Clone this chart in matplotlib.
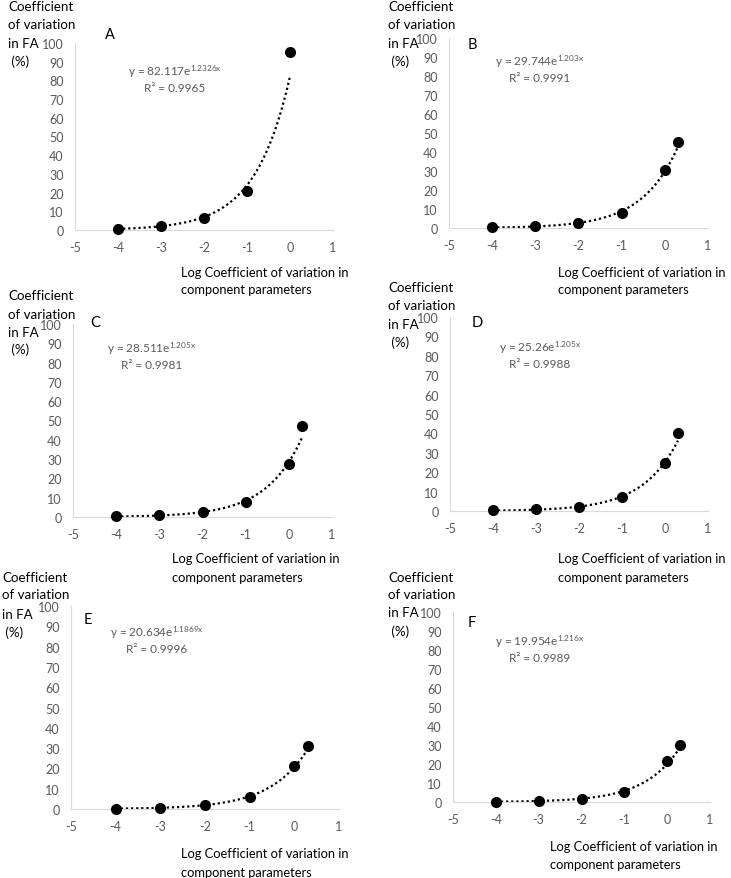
import matplotlib.pyplot as plt
import numpy as np

plt.rcParams["font.family"] = ["Lato", "DejaVu Sans"]
plt.rcParams["mathtext.default"] = "regular"
plt.rcParams["axes.unicode_minus"] = False

W, H = 731, 879

panel_labels = ["A", "B", "C", "D", "E", "F"]
x_log_cv = [-4, -3, -2, -1, 0, 0.3]
cv_fa = [
    [0.8, 2.0, 6.5, 21.0, 95.0],
    [0.3, 0.8, 2.5, 8.0, 30.5, 45.5],
    [0.3, 0.8, 2.5, 7.8, 27.5, 47.0],
    [0.3, 0.8, 2.2, 7.0, 25.0, 40.0],
    [0.2, 0.6, 1.8, 6.0, 21.0, 31.0],
    [0.2, 0.6, 1.7, 5.5, 21.5, 30.0],
]
fit_a = [82.117, 29.744, 28.511, 25.26, 20.634, 19.954]
fit_b = [1.2326, 1.203, 1.205, 1.205, 1.1869, 1.216]
fit_b_text = ["1.2326", "1.203", "1.205", "1.205", "1.1869", "1.216"]
r2_text = ["0.9965", "0.9991", "0.9981", "0.9988", "0.9996", "0.9989"]
y_ticks = list(range(0, 101, 10))
x_ticks = [-5, -4, -3, -2, -1, 0, 1]
ylabel_lines = ["Coefficient", "of variation", "in FA", " (%)"]
xlabel_lines = ["Log Coefficient of variation in", "component parameters"]

# pixel layout per panel: axes left, right, top(y=100), bottom(y=0)
axes_px = [
    (75, 333, 44, 231),
    (449, 708, 39, 229),
    (73, 332, 325, 518),
    (450, 708, 318, 512),
    (71, 339, 607, 810),
    (453, 710, 613, 803),
]
letter_px = [(110, 35), (472, 45), (95, 323), (477, 323), (88, 620), (472, 623)]
eq_px = [(175, 72), (540, 62), (152, 349), (540, 348), (157, 633), (540, 642)]
ylab_x = [8, 388, 8, 388, 2, 388]
ylab_y = [(7, 25, 44, 62), (7, 25, 44, 62), (296, 315, 333, 350),
          (288, 306, 325, 343), (578, 595, 615, 633), (578, 595, 613, 632)]
xlab_x = [181, 558, 172, 558, 181, 550]
xlab_y = [(273, 290), (273, 290), (559, 578), (559, 578), (854, 873), (847, 865)]

fig = plt.figure(figsize=(W / 100, H / 100), dpi=100)


def fx(x):
    return x / W


def fy(y):
    return 1 - y / H


grey = "#595959"
for i in range(6):
    l, r, t, b = axes_px[i]
    ax = fig.add_axes([fx(l), fy(b), (r - l) / W, (b - t) / H])
    ax.set_xlim(-5, 1)
    ax.set_ylim(0, 100)
    ax.set_xticks(x_ticks)
    ax.set_yticks(y_ticks)
    ax.tick_params(length=0, labelsize=9, labelcolor=grey, pad=8)
    for s in ["top", "right"]:
        ax.spines[s].set_visible(False)
    for s in ["left", "bottom"]:
        ax.spines[s].set_color("#d9d9d9")
    ax.patch.set_alpha(0)

    ys = cv_fa[i]
    xs = x_log_cv[: len(ys)]
    xf = np.linspace(xs[0], xs[-1], 200)
    ax.plot(xf, fit_a[i] * np.exp(fit_b[i] * xf), color="black", ls=(0, (1, 1.3)),
            lw=1.6, clip_on=False)
    ax.plot(xs, ys, "o", color="black", ms=7, clip_on=False, zorder=5)

    lx, ly = letter_px[i]
    fig.text(fx(lx), fy(ly), panel_labels[i], fontsize=10.5, ha="center", va="center")
    ex, ey = eq_px[i]
    fig.text(fx(ex), fy(ey), f"y = {fit_a[i]}e$^{{{fit_b_text[i]}x}}$", fontsize=8.5,
             color=grey, ha="center", va="center")
    fig.text(fx(ex), fy(ey + 17), f"R\u00b2 = {r2_text[i]}", fontsize=8.5,
             color=grey, ha="center", va="center")
    for line, yy in zip(ylabel_lines, ylab_y[i]):
        fig.text(fx(ylab_x[i]), fy(yy), line, fontsize=9.6, ha="left", va="center")
    for line, yy in zip(xlabel_lines, xlab_y[i]):
        fig.text(fx(xlab_x[i]), fy(yy), line, fontsize=9.3, ha="left", va="center")

fig.savefig("out.png", dpi=100)
